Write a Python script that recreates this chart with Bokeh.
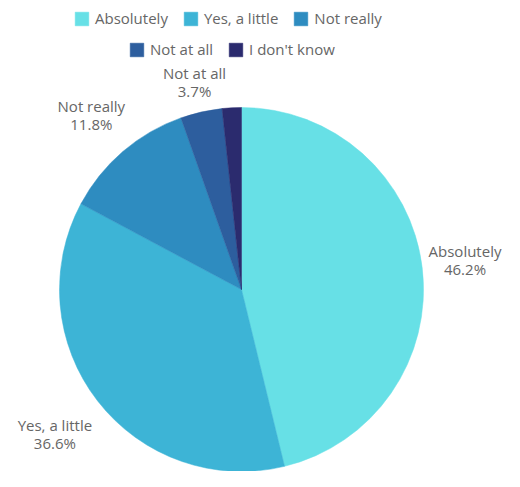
import math
from bokeh.plotting import figure
from bokeh.models import ColumnDataSource, Range1d, Legend, LegendItem
from bokeh.core.properties import value
from bokeh.embed import file_html
from bokeh.resources import INLINE

categories = ["Absolutely", "Yes, a little", "Not really", "Not at all", "I don't know"]
percents = [46.2, 36.6, 11.8, 3.7, 1.7]
colors = ["#67e0e6", "#3db4d6", "#2e8cc0", "#2d5e9e", "#2b2b6e"]
labelled = [True, True, True, True, False]

W, H = 504, 471
FONT = "Open Sans"
FS = 15
TXT = "#666666"

p = figure(width=W, height=H, output_backend="svg", toolbar_location=None,
           x_range=Range1d(0, W), y_range=Range1d(487 - H, 487),
           min_border=0)
p.axis.visible = False
p.grid.visible = False
p.outline_line_color = None
p.background_fill_color = "white"

cx, cy, r = 241, 487 - 289, 182

total = sum(percents)
starts, ends, mids = [], [], []
acc = 0.0
for v in percents:
    a0 = math.pi / 2 - 2 * math.pi * acc / total
    acc += v
    a1 = math.pi / 2 - 2 * math.pi * acc / total
    starts.append(a0)
    ends.append(a1)
    mids.append((a0 + a1) / 2)

src = ColumnDataSource(dict(cat=categories, start=starts, end=ends, color=colors))
wedges = p.wedge(x=cx, y=cy, radius=r, start_angle="start", end_angle="end",
                 direction="clock", fill_color="color", line_color="color",
                 line_width=0.5, source=src)

# labels placed outside the pie along each slice's mid-angle
lx, ly, lt = [], [], []
for cat, v, m, show in zip(categories, percents, mids, labelled):
    if not show:
        continue
    dx, dy = math.cos(m), math.sin(m)
    hw = len(cat) * 7.3 / 2
    d = r + 21 + 42 * abs(dx)
    x = cx + d * dx
    x = min(x, W - 3 - hw)
    x = max(x, 3 + hw)
    lx.append(x)
    ly.append(cy + d * dy)
    lt.append(f"{cat}\n{v}%")
p.text(x=lx, y=ly, text=lt, text_align="center", text_baseline="middle",
       text_font=value(FONT), text_font_size=f"{FS}px", text_color=TXT,
       text_line_height=0.9)

# legend: two centred rows
rows = [[0, 1, 2], [3, 4]]
locs = [(73, 443), (128, 412)]
for row, loc in zip(rows, locs):
    items = [LegendItem(label=categories[i], renderers=[wedges], index=i) for i in row]
    lg = Legend(items=items, orientation="horizontal", location=loc,
                glyph_width=17, glyph_height=17, label_standoff=5, spacing=14,
                padding=0, margin=0, border_line_color=None,
                background_fill_alpha=0, label_text_font=FONT,
                label_text_font_size=f"{FS}px", label_text_color=TXT,
                label_height=17)
    p.add_layout(lg)

open("out.html", "w").write(file_html(p, INLINE))
